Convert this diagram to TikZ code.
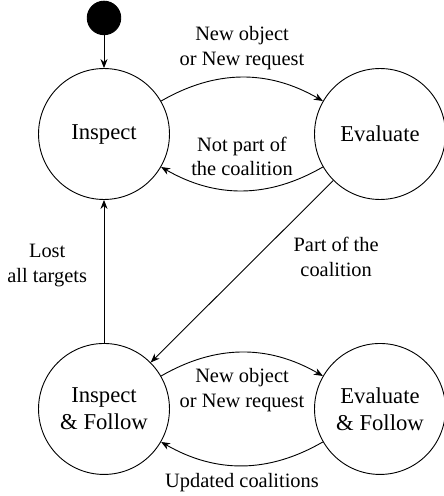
\documentclass[tikz,border=0pt]{standalone}
\usepackage{fontspec}
\setmainfont{Liberation Serif}
\usetikzlibrary{arrows.meta,positioning}
\tikzset{
    -{Stealth[length=1.4mm,width=1.1mm]},auto,thin,
    state/.style ={circle, draw, minimum size = 2.03cm, align=center, inner sep=0pt},
    startdot/.style = {circle, draw, fill, minimum size = 0.52cm, inner sep=0pt},
    el/.style = {font=\small, align=center}
}

\begin{document}
\begin{tikzpicture}
      \useasboundingbox (0,0) rectangle (6.882,7.688);
      \node[startdot] (S) at (1.612,7.41) {};
      \node[state] (I) at (1.612,5.611) {Inspect};
      \node[state] (E) at (5.89,5.611) {Evaluate};
      \node[state] (IF) at (1.612,1.349) {Inspect\\\& Follow};
      \node[state] (EF) at (5.89,1.349) {Evaluate\\\& Follow};

      \path (S) edge (I);
      \path (I) edge[bend left=30] node[el, above] {New object\\or New request} (E);
      \path (E) edge[bend left=30] node[el, above=0.1cm] {Not part of\\the coalition} (I);
      \path (E) edge node[el, pos=0.42, right=0.45cm] {Part of the\\coalition} (IF);
      \path (IF) edge node[el, pos=0.54, left=0.14cm] {Lost\\all targets} (I);
      \path (IF) edge[bend left=30] node[el, below=0.12cm] {New object\\or New request} (EF);
      \path (EF) edge[bend left=30] node[el, below] {Updated coalitions} (IF);
    \end{tikzpicture}
\end{document}
